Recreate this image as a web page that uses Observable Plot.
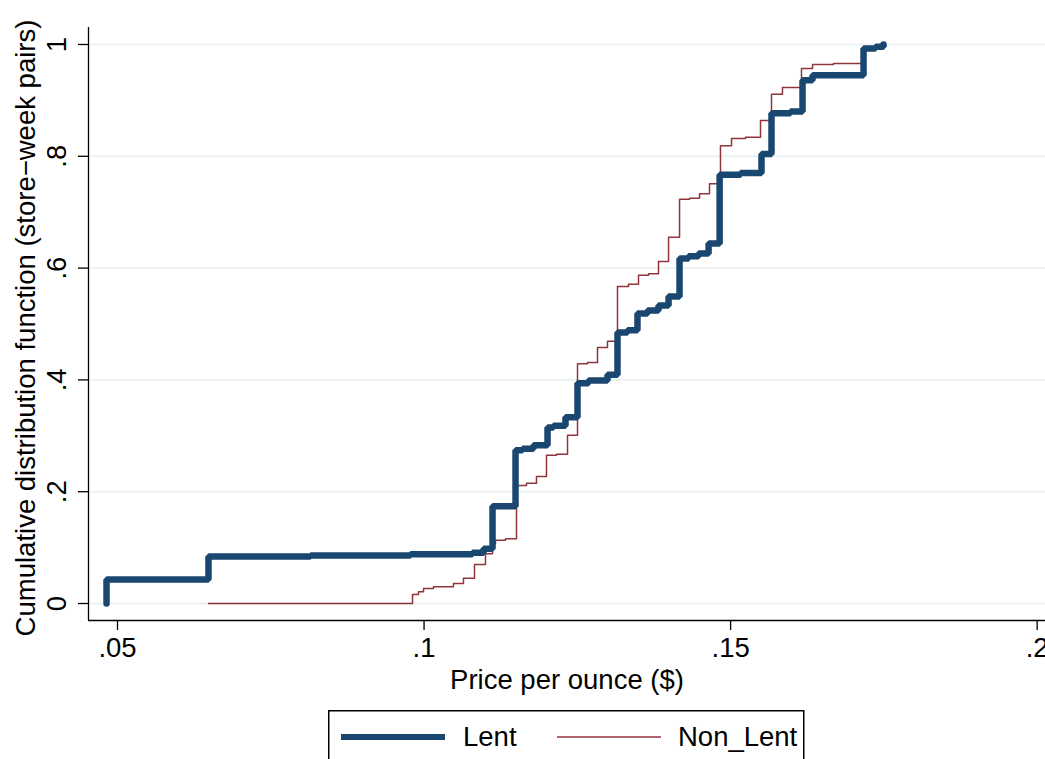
<!DOCTYPE html>
<html>
<head>
<meta charset="utf-8">
<script src="https://cdn.jsdelivr.net/npm/d3@7"></script>
<script src="https://cdn.jsdelivr.net/npm/@observablehq/plot@0.6"></script>
<style>
  html, body { margin: 0; padding: 0; background: #fff; overflow: hidden; }
  body { width: 1045px; height: 759px; position: relative; font-family: "Liberation Sans", Arial, sans-serif; }
  #legend { position: absolute; left: 328px; top: 710px; }
</style>
</head>
<body>
<div id="chart"></div>
<div id="legend"></div>
<script>
// ---- Data ----
const seriesNames = ["Lent", "Non_Lent"];
const seriesColors = ["#1a476f", "#90353b"];

const lentPrice = [0.04821, 0.04821, 0.06484, 0.08148, 0.09779, 0.10790, 0.10970, 0.11117, 0.11492, 0.11606,
  0.11785, 0.12014, 0.12111, 0.12307, 0.12503, 0.12682, 0.12992, 0.13155, 0.13318, 0.13481,
  0.13645, 0.13824, 0.13988, 0.14167, 0.14314, 0.14478, 0.14641, 0.14821, 0.15163, 0.15504,
  0.15667, 0.15977, 0.16173, 0.16336, 0.17168, 0.17364, 0.17494];
const lentCdf = [0, 0.043, 0.084, 0.086, 0.088, 0.091, 0.098, 0.174, 0.274, 0.277,
  0.283, 0.315, 0.318, 0.333, 0.394, 0.399, 0.409, 0.485, 0.489, 0.519,
  0.524, 0.533, 0.549, 0.617, 0.621, 0.626, 0.644, 0.767, 0.770, 0.804,
  0.877, 0.880, 0.936, 0.945, 0.993, 0.996, 1.0];

const nonLentPrice = [0.06484, 0.09812, 0.09909, 0.09991, 0.10154, 0.10480, 0.10643, 0.10823, 0.11002, 0.11117,
  0.11165, 0.11328, 0.11508, 0.11671, 0.11834, 0.11997, 0.12160, 0.12340, 0.12503, 0.12666,
  0.12829, 0.12992, 0.13155, 0.13335, 0.13498, 0.13661, 0.13824, 0.13988, 0.14167, 0.14330,
  0.14493, 0.14656, 0.14835, 0.15015, 0.15243, 0.15488, 0.15667, 0.15846, 0.16156, 0.16336,
  0.16678, 0.17151, 0.17494];
const nonLentCdf = [0, 0.016, 0.021, 0.027, 0.030, 0.036, 0.045, 0.070, 0.089, 0.107,
  0.113, 0.116, 0.211, 0.215, 0.227, 0.265, 0.267, 0.301, 0.429, 0.431,
  0.458, 0.469, 0.567, 0.571, 0.587, 0.590, 0.612, 0.655, 0.723, 0.725,
  0.733, 0.751, 0.819, 0.832, 0.834, 0.864, 0.911, 0.923, 0.957, 0.964,
  0.966, 0.993, 0.997];

const xTicks = [0.05, 0.1, 0.15, 0.2];
const xTickLabels = [".05", ".1", ".15", ".2"];
const yTicks = [0, 0.2, 0.4, 0.6, 0.8, 1];
const yTickLabels = ["0", ".2", ".4", ".6", ".8", "1"];

const xLabel = "Price per ounce ($)";
const yLabel = "Cumulative distribution function (store\u2212week pairs)";

// ---- Build tables ----
const lent = lentPrice.map((p, i) => ({price: p, cdf: lentCdf[i]}));
const nonLent = nonLentPrice.map((p, i) => ({price: p, cdf: nonLentCdf[i]}));

const xDomain = [0.04527, 0.20136];
const yDomain = [-0.0304, 1.0304];
const font = "'Liberation Sans', Arial, Helvetica, sans-serif";
const fs = 27.5;

const chart = Plot.plot({
  width: 1045,
  height: 705,
  marginLeft: 88,
  marginRight: 0,
  marginTop: 27,
  marginBottom: 85,
  style: {fontFamily: font, fontSize: fs + "px", background: "#fff", color: "#000", overflow: "visible"},
  x: {domain: xDomain},
  y: {domain: yDomain},
  marks: [
    Plot.gridY(yTicks, {stroke: "#eaf2f3", strokeOpacity: 1, strokeWidth: 2}),
    Plot.ruleX([xDomain[0]], {stroke: "#000", strokeWidth: 1.3}),
    Plot.ruleY([yDomain[0]], {stroke: "#000", strokeWidth: 1.3}),
    Plot.axisX({ticks: xTicks, tickSize: 10, tickPadding: 7, strokeWidth: 1.3,
      tickFormat: d => xTickLabels[xTicks.indexOf(d)], fontSize: fs, label: null}),
    Plot.axisY({ticks: yTicks, tickSize: 10, tickPadding: 13, tickRotate: -90, strokeWidth: 1.3,
      tickFormat: d => yTickLabels[yTicks.indexOf(d)], fontSize: fs, label: null}),
    Plot.line(nonLent, {x: "price", y: "cdf", curve: "step-after", stroke: seriesColors[1], strokeWidth: 1.5}),
    Plot.line(lent, {x: "price", y: "cdf", curve: "step-after", stroke: seriesColors[0], strokeWidth: 6.5,
      strokeLinecap: "round", strokeLinejoin: "miter"}),
    Plot.text([xLabel], {text: d => d, frameAnchor: "bottom", dy: 68, lineAnchor: "bottom", fontSize: fs, fill: "#000"}),
    Plot.text([yLabel], {text: d => d, frameAnchor: "left", rotate: -90, dx: -54, dy: 4, lineAnchor: "bottom",
      textAnchor: "middle", fontSize: fs, fill: "#000"})
  ]
});
document.getElementById("chart").appendChild(chart);

// ---- Legend ----
const ns = "http://www.w3.org/2000/svg";
const lg = document.createElementNS(ns, "svg");
lg.setAttribute("width", 477);
lg.setAttribute("height", 60);
lg.style.fontFamily = font;
const rect = document.createElementNS(ns, "rect");
rect.setAttribute("x", 0.75); rect.setAttribute("y", 0.75);
rect.setAttribute("width", 475); rect.setAttribute("height", 70);
rect.setAttribute("fill", "#fff"); rect.setAttribute("stroke", "#000"); rect.setAttribute("stroke-width", 1.5);
lg.appendChild(rect);
const items = [
  {x1: 13, x2: 117, tx: 135, w: 6, name: seriesNames[0], color: seriesColors[0]},
  {x1: 229, x2: 333, tx: 350, w: 1.5, name: seriesNames[1], color: seriesColors[1]}
];
for (const it of items) {
  const l = document.createElementNS(ns, "line");
  l.setAttribute("x1", it.x1); l.setAttribute("x2", it.x2);
  l.setAttribute("y1", 27); l.setAttribute("y2", 27);
  l.setAttribute("stroke", it.color); l.setAttribute("stroke-width", it.w);
  lg.appendChild(l);
  const t = document.createElementNS(ns, "text");
  t.setAttribute("x", it.tx); t.setAttribute("y", 36);
  t.setAttribute("font-size", fs);
  t.setAttribute("fill", "#000");
  t.textContent = it.name;
  lg.appendChild(t);
}
document.getElementById("legend").appendChild(lg);
</script>
</body>
</html>
